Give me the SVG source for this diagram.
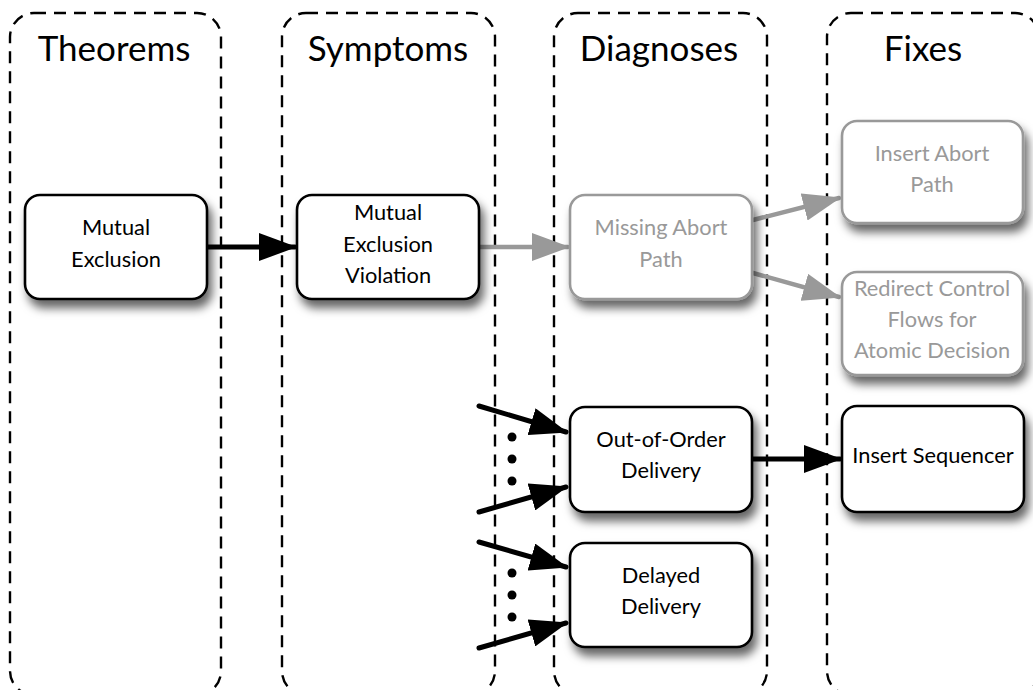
<svg xmlns="http://www.w3.org/2000/svg" width="1033" height="690" viewBox="0 0 1033 690">
  <defs>
    <style>
      .lane { fill: none; stroke: #000; stroke-width: 2.4; stroke-dasharray: 12 8; }
      .title { font-family: Lato, "Liberation Sans", sans-serif; font-size: 35px; fill: #000; text-anchor: middle; }
      .node rect { fill: #fff; stroke: #000; stroke-width: 2.6; filter: url(#shadow); }
      .node text { font-family: Lato, "Liberation Sans", sans-serif; font-size: 21.8px; fill: #000; text-anchor: middle; }
      .node.dim rect { stroke: #999; }
      .node.dim text { fill: #999; }
      .edge { fill: none; stroke: #000; stroke-width: 5; stroke-linecap: round; }
      .edge.dim { stroke: #999; stroke-width: 4.5; }
      .dot { fill: #000; }
    </style>
    <filter id="shadow" x="-20%" y="-20%" width="150%" height="160%">
      <feDropShadow dx="4" dy="8" stdDeviation="5" flood-color="#000" flood-opacity="0.6"/>
    </filter>
    <marker id="head" viewBox="0 0 38 28" refX="36" refY="14" markerWidth="38" markerHeight="28" markerUnits="userSpaceOnUse" orient="auto">
      <path d="M0,0 L38,14 L0,28 Z" fill="#000"/>
    </marker>
    <marker id="head-dim" viewBox="0 0 38 28" refX="36" refY="14" markerWidth="38" markerHeight="28" markerUnits="userSpaceOnUse" orient="auto">
      <path d="M0,0 L38,14 L0,28 Z" fill="#999"/>
    </marker>
  </defs>

  <!-- swimlanes -->
  <g id="lanes">
    <rect class="lane" x="10" y="13" width="211" height="682" rx="24"/>
    <rect class="lane" x="282" y="13" width="213" height="682" rx="24"/>
    <rect class="lane" x="554" y="13" width="213" height="682" rx="24"/>
    <rect class="lane" x="827" y="13" width="212" height="682" rx="24"/>
    <text class="title" x="114" y="61">Theorems</text>
    <text class="title" x="388" y="61">Symptoms</text>
    <text class="title" x="659" y="61">Diagnoses</text>
    <text class="title" x="923" y="61">Fixes</text>
  </g>

  <!-- connectors -->
  <g id="connectors">
    <line class="edge" x1="207" y1="247" x2="295" y2="247" marker-end="url(#head)"/>
    <line class="edge dim" x1="479" y1="247" x2="568" y2="247" marker-end="url(#head-dim)"/>
    <line class="edge dim" x1="753" y1="220" x2="839" y2="198" marker-end="url(#head-dim)"/>
    <line class="edge dim" x1="753" y1="273" x2="839" y2="297" marker-end="url(#head-dim)"/>
    <line class="edge" x1="752" y1="459" x2="840" y2="459" marker-end="url(#head)"/>
    <line class="edge" x1="479" y1="406" x2="566" y2="432" marker-end="url(#head)"/>
    <line class="edge" x1="479" y1="512" x2="566" y2="487" marker-end="url(#head)"/>
    <line class="edge" x1="479" y1="542" x2="566" y2="567" marker-end="url(#head)"/>
    <line class="edge" x1="479" y1="648" x2="566" y2="623" marker-end="url(#head)"/>
    <circle class="dot" cx="512" cy="437" r="4.5"/>
    <circle class="dot" cx="512" cy="459" r="4.5"/>
    <circle class="dot" cx="512" cy="481" r="4.5"/>
    <circle class="dot" cx="512" cy="573" r="4.5"/>
    <circle class="dot" cx="512" cy="595" r="4.5"/>
    <circle class="dot" cx="512" cy="617" r="4.5"/>
  </g>

  <!-- nodes -->
  <g id="mutual-exclusion" class="node">
    <rect x="25" y="195" width="182" height="104" rx="15"/>
    <text x="116" y="235">Mutual</text>
    <text x="116" y="267">Exclusion</text>
  </g>
  <g id="mutual-exclusion-violation" class="node">
    <rect x="297" y="195" width="182" height="104" rx="15"/>
    <text x="388" y="220">Mutual</text>
    <text x="388" y="252">Exclusion</text>
    <text x="388" y="283">Violation</text>
  </g>
  <g id="missing-abort-path" class="node dim">
    <rect x="570" y="195" width="182" height="104" rx="15"/>
    <text x="661" y="235">Missing Abort</text>
    <text x="661" y="267">Path</text>
  </g>
  <g id="insert-abort-path" class="node dim">
    <rect x="842" y="121" width="181" height="102" rx="15"/>
    <text x="932" y="161">Insert Abort</text>
    <text x="932" y="192">Path</text>
  </g>
  <g id="redirect-control-flows" class="node dim">
    <rect x="842" y="272" width="181" height="103" rx="15"/>
    <text x="932" y="296">Redirect Control</text>
    <text x="932" y="327">Flows for</text>
    <text x="932" y="358">Atomic Decision</text>
  </g>
  <g id="out-of-order-delivery" class="node">
    <rect x="570" y="407" width="182" height="105" rx="15"/>
    <text x="661" y="447">Out-of-Order</text>
    <text x="661" y="478">Delivery</text>
  </g>
  <g id="delayed-delivery" class="node">
    <rect x="570" y="543" width="182" height="104" rx="15"/>
    <text x="661" y="583">Delayed</text>
    <text x="661" y="614">Delivery</text>
  </g>
  <g id="insert-sequencer" class="node">
    <rect x="842" y="406" width="182" height="106" rx="15"/>
    <text x="933" y="463">Insert Sequencer</text>
  </g>
</svg>
